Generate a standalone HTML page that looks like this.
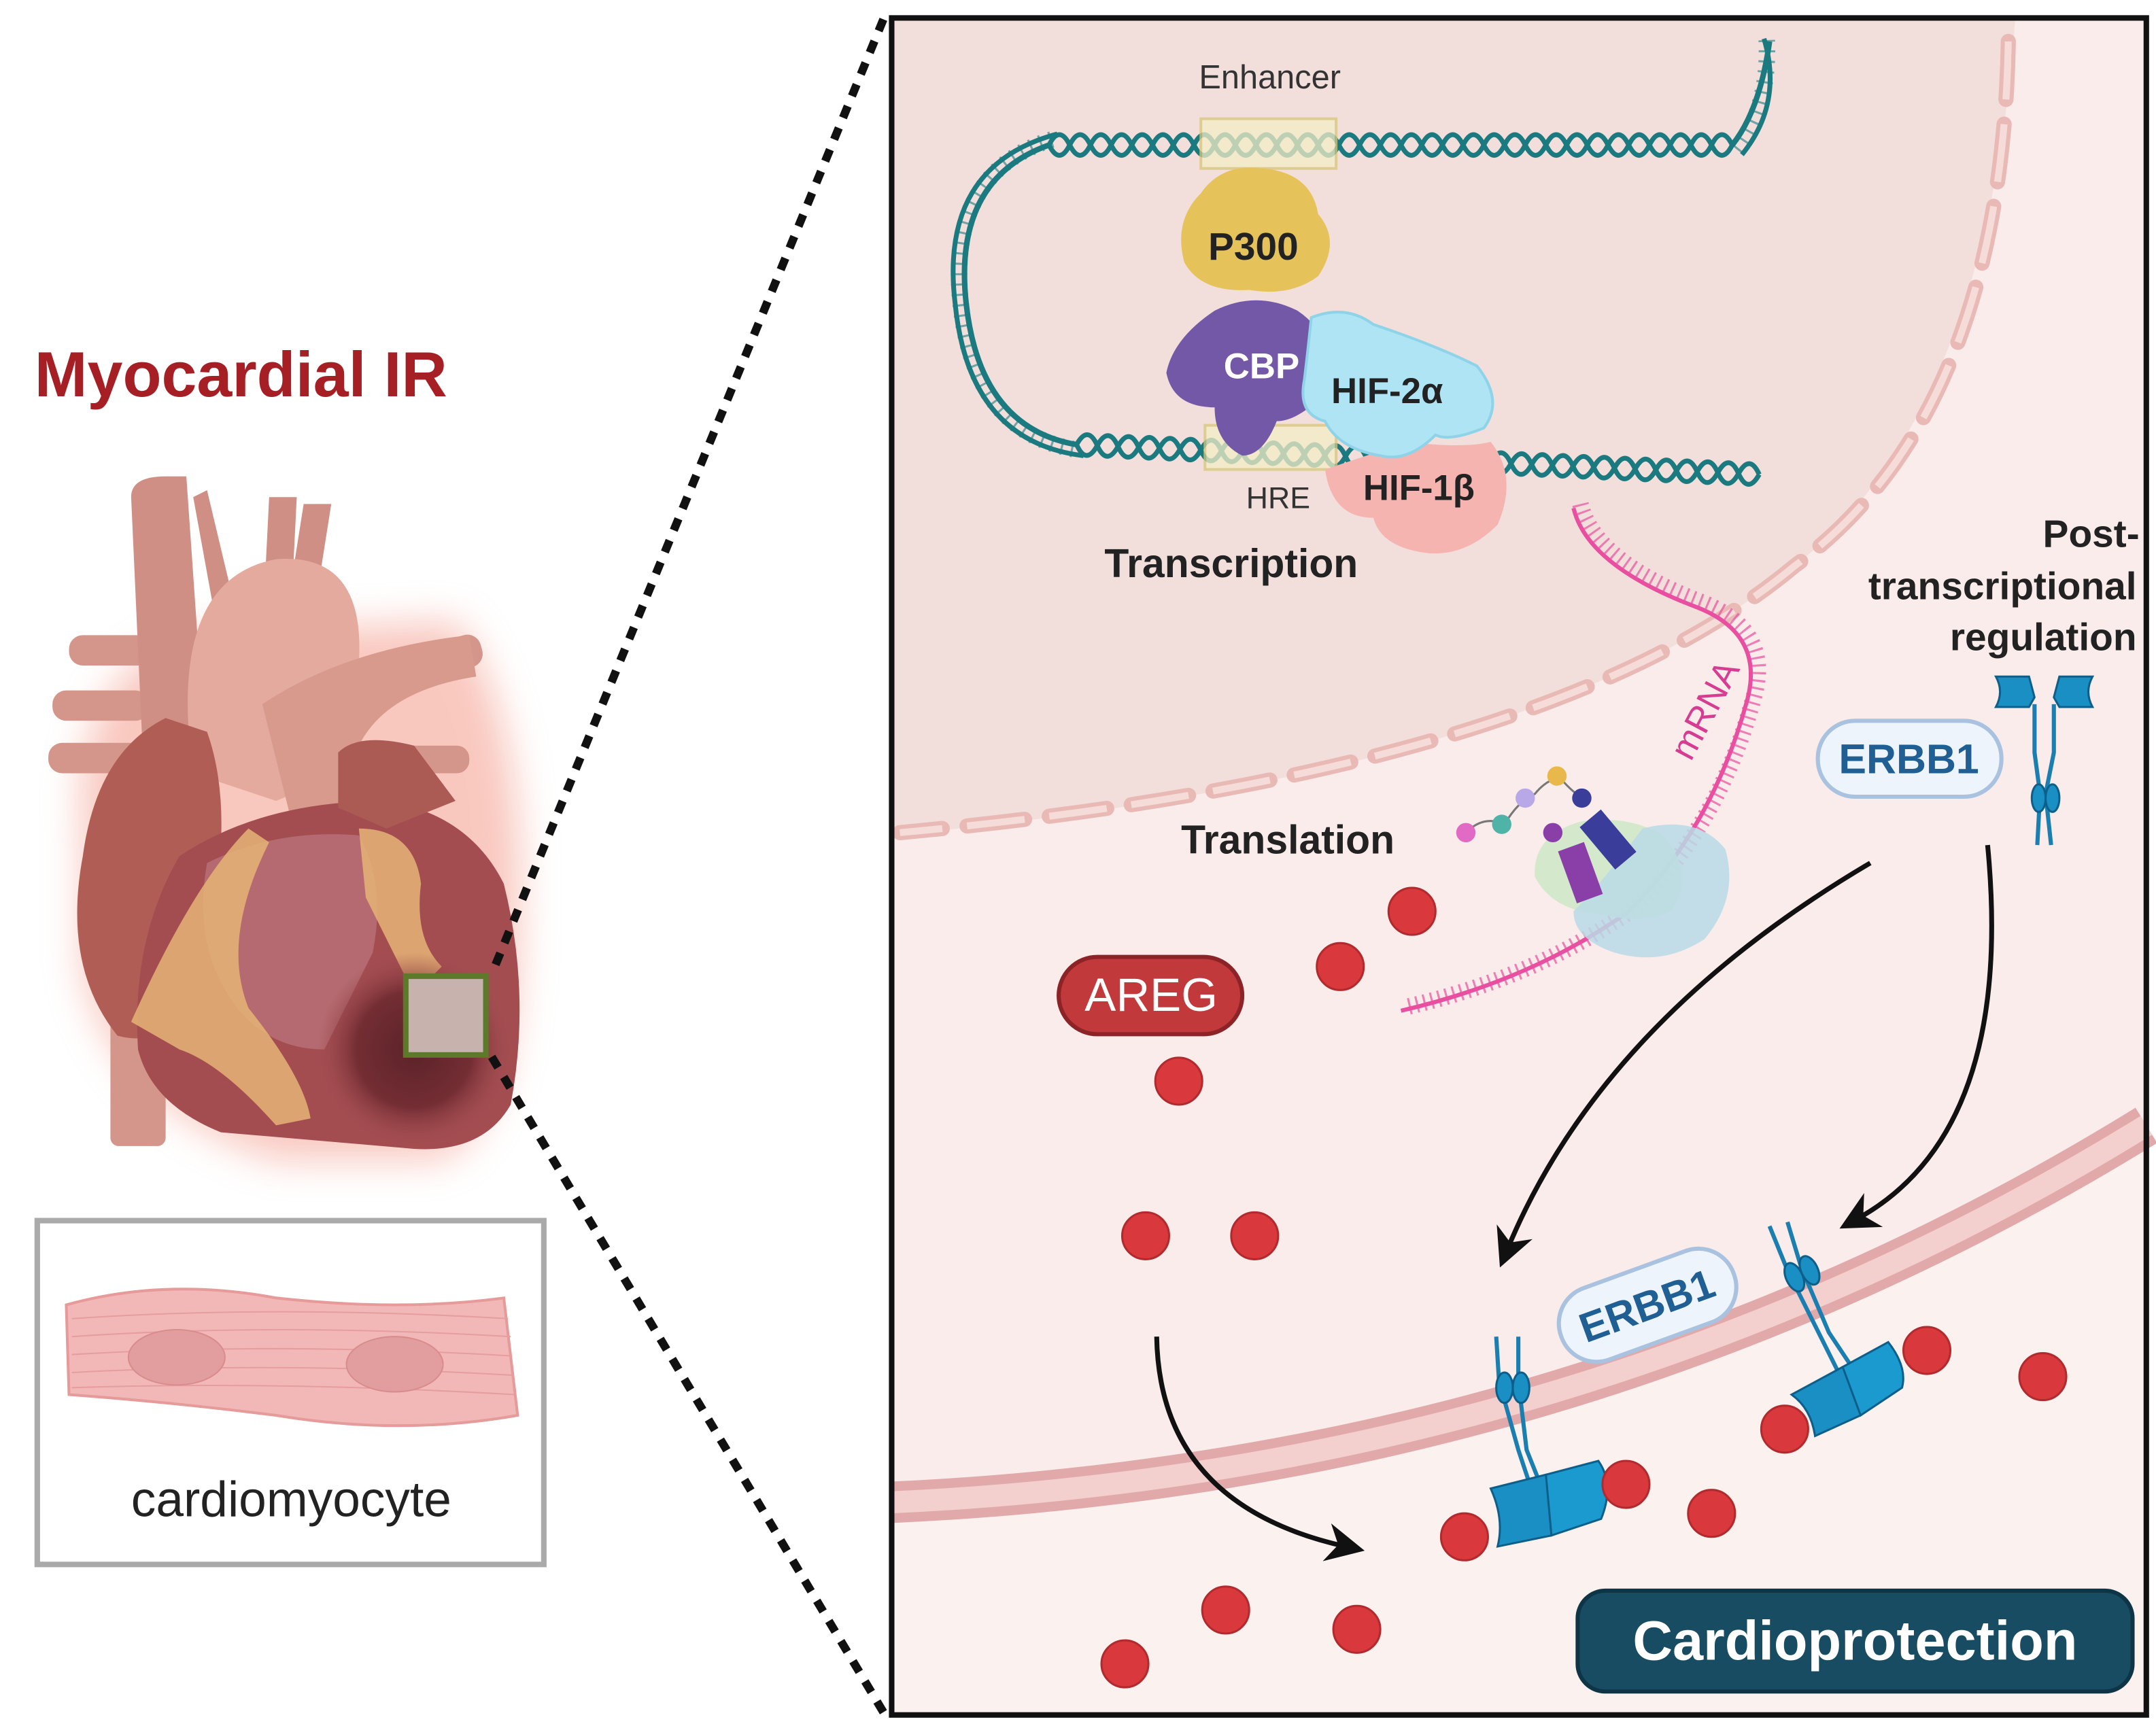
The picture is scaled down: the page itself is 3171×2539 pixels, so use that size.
<!DOCTYPE html>
<html><head><meta charset="utf-8"><style>
html,body{margin:0;padding:0;background:#fff;}
svg{display:block;}
text{font-family:"Liberation Sans",sans-serif;}
</style></head><body>
<svg width="3171" height="2539" viewBox="0 0 1562 1250" preserveAspectRatio="none" xmlns="http://www.w3.org/2000/svg">
<defs>
<filter id="glow" x="-30%" y="-30%" width="160%" height="160%"><feGaussianBlur stdDeviation="14"/></filter>
<marker id="ah" viewBox="0 0 10 10" refX="5" refY="5" markerWidth="8" markerHeight="8" orient="auto"><path d="M0,0 L10,5 L0,10 L3,5 Z" fill="#111"/></marker>
<radialGradient id="inf" cx="0.5" cy="0.5" r="0.5"><stop offset="0" stop-color="#5a2228"/><stop offset="0.6" stop-color="#6e2a30" stop-opacity="0.9"/><stop offset="1" stop-color="#9e4a4e" stop-opacity="0"/></radialGradient>
</defs>
<rect width="1562" height="1250" fill="#fff"/>
<text x="25" y="287" font-size="46" font-weight="bold" fill="#a51f24">Myocardial IR</text>
<g>
<path d="M60,600 Q50,500 130,460 L330,450 Q385,520 375,700 Q370,810 320,840 L200,840 Q80,800 60,700 Z" fill="#f3907e" opacity="0.5" filter="url(#glow)"/>
<rect x="35" y="538" width="70" height="22" rx="10" fill="#d4968a"/>
<rect x="38" y="500" width="70" height="22" rx="10" fill="#d4968a"/>
<rect x="50" y="460" width="70" height="22" rx="10" fill="#d4968a"/>
<rect x="260" y="470" width="90" height="24" rx="10" transform="rotate(-15 300 480)" fill="#d4968a"/>
<rect x="270" y="540" width="70" height="20" rx="9" fill="#d4968a"/>
<rect x="80" y="690" width="40" height="140" rx="6" fill="#d4968a"/>
<path d="M110,690 L95,360 Q95,345 120,345 L135,345 L150,560 Z" fill="#d08f84"/>
<path d="M140,360 L150,355 L175,460 L160,470 Z" fill="#d08f84"/>
<path d="M195,360 L215,360 L210,460 L190,460 Z" fill="#d08f84"/>
<path d="M220,365 L240,365 L225,460 L205,460 Z" fill="#d08f84"/>
<path d="M140,560 Q120,420 200,405 Q265,400 260,480 Q255,560 200,580 Z" fill="#e5aa9e"/>
<path d="M190,510 Q250,470 340,460 L345,490 Q280,500 260,540 L250,600 L210,590 Z" fill="#d99a8e"/>
<path d="M60,620 Q70,545 120,520 L150,530 Q175,600 140,720 Q120,760 85,750 Q45,700 60,620 Z" fill="#b05e55"/>
<path d="M130,620 Q190,580 280,580 Q340,590 365,640 Q385,720 370,800 Q350,835 300,832 L160,820 Q110,800 100,760 Q95,680 130,620 Z" fill="#a34d51"/>
<path d="M245,545 Q260,530 300,540 L330,580 L280,600 L245,585 Z" fill="#ab5b54"/>
<path d="M150,625 Q200,600 260,605 Q280,640 270,690 L235,760 Q190,760 165,720 Q140,680 150,625 Z" fill="#b46a70"/>
<path d="M95,740 Q140,640 180,600 L195,610 Q160,680 180,730 Q220,780 225,810 L200,815 Q160,770 130,760 Z" fill="#e6b476" opacity="0.85"/>
<path d="M260,600 Q300,600 305,640 Q300,680 320,700 L300,720 Q280,680 265,650 Z" fill="#e6b476" opacity="0.85"/>
<ellipse cx="300" cy="760" rx="70" ry="70" fill="url(#inf)"/>
<rect x="294" y="707" width="58" height="57" fill="#c8b2ae" stroke="#5d7a2a" stroke-width="4"/>
</g>
<rect x="27" y="884" width="367" height="249" fill="#fff" stroke="#aaa" stroke-width="4"/>
<path d="M48,945 Q120,925 200,940 Q290,950 365,940 L375,1025 Q290,1040 200,1025 Q120,1015 50,1010 Z" fill="#f2b8b8" stroke="#e69a9a" stroke-width="2"/>
<g stroke="#e59d9d" stroke-width="1" fill="none">
<path d="M52,955 Q200,945 368,955"/><path d="M52,968 Q200,958 370,968"/><path d="M52,981 Q200,972 371,982"/><path d="M52,994 Q200,986 372,996"/><path d="M52,1005 Q200,1000 373,1010"/>
</g>
<ellipse cx="128" cy="983" rx="35" ry="20" fill="#e29e9e" stroke="#d98c8c"/>
<ellipse cx="286" cy="988" rx="35" ry="20" fill="#e29e9e" stroke="#d98c8c"/>
<text x="211" y="1098" font-size="36" fill="#222" text-anchor="middle">cardiomyocyte</text>
<line x1="640" y1="14" x2="356" y2="706" stroke="#111" stroke-width="6" stroke-dasharray="9,8"/>
<line x1="640" y1="1240" x2="356" y2="765" stroke="#111" stroke-width="6" stroke-dasharray="9,8"/>
<rect x="646" y="13" width="909" height="1229" fill="#f9ecea"/>
<path d="M646,13 L1460,13 Q1440,300 1300,410 Q1120,560 646,605 Z" fill="#f2dfdb"/>
<path d="M1455,30 Q1450,300 1300,410 Q1120,560 652,603" fill="none" stroke="#e9b9b6" stroke-width="11" stroke-dasharray="42,18" stroke-linecap="round"/>
<path d="M1455,30 Q1450,300 1300,410 Q1120,560 652,603" fill="none" stroke="#f6dcd9" stroke-width="5" stroke-dasharray="42,18"/>
<path d="M646,1098 Q1150,1075 1555,825 L1555,1242 L646,1242 Z" fill="#fbf1ef"/>
<path d="M646,1088 Q1150,1065 1555,815" fill="none" stroke="#e1a9a9" stroke-width="30"/>
<path d="M646,1088 Q1150,1065 1555,815" fill="none" stroke="#f3cfcd" stroke-width="16"/>
<rect x="646" y="13" width="909" height="1229" fill="none" stroke="#111" stroke-width="4"/>
<!-- DNA helix -->
<g fill="none" stroke="#1b7a80" stroke-width="3.5">
<path d="M760,105 q7.5,-15 15,0 t15,0 t15,0 t15,0 t15,0 t15,0 t15,0 t15,0 t15,0 t15,0 t15,0 t15,0 t15,0 t15,0 t15,0 t15,0 t15,0 t15,0 t15,0 t15,0 t15,0 t15,0 t15,0 t15,0 t15,0 t15,0 t15,0 t15,0 t15,0 t15,0 t15,0 t15,0 t15,0"/>
<path d="M760,105 q7.5,15 15,0 t15,0 t15,0 t15,0 t15,0 t15,0 t15,0 t15,0 t15,0 t15,0 t15,0 t15,0 t15,0 t15,0 t15,0 t15,0 t15,0 t15,0 t15,0 t15,0 t15,0 t15,0 t15,0 t15,0 t15,0 t15,0 t15,0 t15,0 t15,0 t15,0 t15,0 t15,0 t15,0"/>
<path d="M780,322 q7.5,-15 15,0 t15,0 t15,0 t15,0 t15,0 t15,0 t15,0 t15,0 t15,0 t15,0 t15,0 t15,0 t15,0 t15,0 t15,0 t15,0 t15,0 t15,0 t15,0 t15,0 t15,0 t15,0 t15,0 t15,0 t15,0 t15,0 t15,0 t15,0 t15,0 t15,0 t15,0 t15,0 t15,0" transform="rotate(2.5 780 322)"/>
<path d="M780,322 q7.5,15 15,0 t15,0 t15,0 t15,0 t15,0 t15,0 t15,0 t15,0 t15,0 t15,0 t15,0 t15,0 t15,0 t15,0 t15,0 t15,0 t15,0 t15,0 t15,0 t15,0 t15,0 t15,0 t15,0 t15,0 t15,0 t15,0 t15,0 t15,0 t15,0 t15,0 t15,0 t15,0 t15,0" transform="rotate(2.5 780 322)"/>
<path d="M1255,105 Q1275,80 1282,30" stroke-width="4"/>
<path d="M1262,112 Q1292,75 1278,28"/>
<path d="M760,105 Q690,130 700,220 Q710,310 780,322" stroke-width="4"/>
<path d="M766,97 Q680,120 692,220 Q702,320 785,330"/>
</g>
<g fill="none" stroke="#1b7a80" stroke-width="12" stroke-dasharray="1.5,6" opacity="0.6">
<path d="M762,101 Q686,125 696,220 Q706,315 782,326"/>
<path d="M1258,108 Q1282,78 1280,29"/>
</g>
<rect x="870" y="86" width="98" height="36" fill="#f4edc6" stroke="#d8c87a" stroke-width="2" opacity="0.75"/>
<rect x="873" y="308" width="95" height="32" fill="#f4edc6" stroke="#d8c87a" stroke-width="2" opacity="0.75"/>
<text x="920" y="64" font-size="24" fill="#333" text-anchor="middle">Enhancer</text>
<text x="926" y="368" font-size="22" fill="#333" text-anchor="middle">HRE</text>
<path d="M870,140 Q885,118 915,122 Q950,125 955,155 Q972,175 955,200 Q935,215 905,210 Q870,212 858,190 Q850,160 870,140 Z" fill="#e6c35a"/>
<text x="908" y="188" font-size="28" font-weight="bold" fill="#222" text-anchor="middle">P300</text>
<path d="M880,225 Q910,210 940,225 Q970,245 960,285 Q940,305 925,305 Q915,330 900,330 Q880,320 880,295 Q850,295 845,270 Q850,245 880,225 Z" fill="#7458a8"/>
<text x="914" y="274" font-size="26" font-weight="bold" fill="#fff" text-anchor="middle">CBP</text>
<path d="M1020,320 Q1060,325 1080,320 Q1100,345 1085,380 Q1060,405 1030,400 Q1000,395 995,375 Q965,375 960,340 Z" fill="#f6b4b1"/>
<path d="M950,230 Q975,220 995,235 Q1040,250 1070,265 Q1090,290 1075,310 Q1050,320 1040,315 Q1020,335 1000,330 Q970,325 960,305 Q940,300 945,275 Q948,250 950,230 Z" fill="#aee4f3" stroke="#8fd3e8" stroke-width="2"/>
<text x="1005" y="292" font-size="26" font-weight="bold" fill="#222" text-anchor="middle">HIF-2α</text>
<text x="1028" y="362" font-size="26" font-weight="bold" fill="#222" text-anchor="middle">HIF-1β</text>
<text x="892" y="418" font-size="29" font-weight="bold" fill="#222" text-anchor="middle">Transcription</text>
<path d="M1140,368 Q1150,410 1230,440 Q1280,460 1265,510 Q1240,600 1180,660 Q1110,710 1015,732" fill="none" stroke="#e94fa0" stroke-width="3"/>
<path d="M1140,368 Q1150,410 1230,440 Q1280,460 1265,510 Q1240,600 1180,660 Q1110,710 1015,732" fill="none" stroke="#e94fa0" stroke-width="12" stroke-dasharray="1.5,4" opacity="0.7" transform="translate(5,-3)"/>
<text x="0" y="0" font-size="26" fill="#d63c91" transform="translate(1225,552) rotate(-62)">mRNA</text>
<path d="M1145,595 Q1180,590 1205,605 Q1230,635 1210,660 Q1190,670 1160,662 Q1125,660 1112,635 Q1110,605 1145,595 Z" fill="#cfe8c8" opacity="0.9"/>
<path d="M1190,600 Q1230,590 1250,615 Q1260,650 1235,680 Q1205,700 1170,690 Q1140,680 1140,660 Q1160,640 1190,600 Z" fill="#b8dbe6" opacity="0.85"/>
<rect x="1155" y="588" width="20" height="40" fill="#3a3d9a" transform="rotate(-40 1165 608)"/>
<rect x="1135" y="612" width="20" height="40" fill="#8a3fa8" transform="rotate(-20 1145 632)"/>
<path d="M1062,603 Q1075,590 1090,597 Q1100,580 1112,575 Q1120,565 1130,563 Q1140,575 1150,580" fill="none" stroke="#777" stroke-width="1.5"/>
<circle cx="1062" cy="603" r="7" fill="#e06ac4"/><circle cx="1088" cy="597" r="7" fill="#4fb3a7"/>
<circle cx="1105" cy="578" r="7" fill="#b9a8e8"/><circle cx="1128" cy="562" r="7" fill="#e8b84a"/>
<circle cx="1146" cy="578" r="7" fill="#3a3d9a"/><circle cx="1125" cy="603" r="7" fill="#8a3fa8"/>
<text x="933" y="618" font-size="29" font-weight="bold" fill="#222" text-anchor="middle">Translation</text>
<text font-size="28" font-weight="bold" fill="#222" text-anchor="end"><tspan x="1550" y="396">Post-</tspan><tspan x="1548" y="434">transcriptional</tspan><tspan x="1548" y="471">regulation</tspan></text>
<g fill="#1a8fc4" stroke="#0d5f8a" stroke-width="1.5">
<path d="M1446,490 L1470,490 L1474,505 L1470,512 L1446,512 Q1452,501 1446,490 Z"/>
<path d="M1516,490 L1492,490 L1488,505 L1492,512 L1516,512 Q1510,501 1516,490 Z"/>
<path d="M1474,510 L1474,545 L1478,575 L1476,612 M1488,510 L1488,545 L1482,575 L1486,612" fill="none" stroke="#1a7fb0" stroke-width="3"/>
<ellipse cx="1477" cy="578" rx="5" ry="10"/><ellipse cx="1487" cy="578" rx="5" ry="10"/>
</g>
<rect x="1317" y="522" width="133" height="55" rx="27" fill="#eef4fb" stroke="#a9c2e0" stroke-width="3"/>
<text x="1383" y="560" font-size="30" font-weight="bold" fill="#1f5f93" text-anchor="middle">ERBB1</text>
<g transform="rotate(-20 1193 945)">
<rect x="1127" y="918" width="133" height="55" rx="27" fill="#eef4fb" stroke="#a9c2e0" stroke-width="3"/>
<text x="1193" y="956" font-size="30" font-weight="bold" fill="#1f5f93" text-anchor="middle">ERBB1</text>
</g>
<rect x="767" y="693" width="133" height="56" rx="28" fill="#c1393b" stroke="#8c2326" stroke-width="3"/>
<text x="834" y="732" font-size="34" fill="#fff" text-anchor="middle">AREG</text>
<g stroke="#0d5f8a" stroke-width="1.5" fill="#1a8fc4">
<path d="M1084,968 L1086,1000 L1100,1050 L1110,1080 M1100,968 L1100,1000 L1106,1050 L1118,1080" fill="none" stroke="#1a7fb0" stroke-width="3"/>
<ellipse cx="1090" cy="1005" rx="6" ry="11"/><ellipse cx="1102" cy="1005" rx="6" ry="11"/>
<path d="M1080,1078 L1120,1068 L1128,1090 L1124,1112 L1085,1120 Q1090,1100 1080,1078 Z"/>
<path d="M1120,1068 L1158,1058 Q1170,1075 1160,1100 L1124,1112 Z" fill="#1b9ad0"/>
<path d="M1282,888 L1295,920 L1320,970 L1335,1000 M1295,885 L1305,918 L1325,965 L1345,995" fill="none" stroke="#1a7fb0" stroke-width="3"/>
<ellipse cx="1300" cy="925" rx="6" ry="11" transform="rotate(-25 1300 925)"/><ellipse cx="1311" cy="920" rx="6" ry="11" transform="rotate(-25 1311 920)"/>
<path d="M1298,1010 L1335,990 L1350,1010 L1348,1025 L1315,1040 Q1312,1020 1298,1010 Z"/>
<path d="M1335,990 L1368,972 Q1382,990 1378,1005 L1348,1025 Z" fill="#1b9ad0"/>
</g>
<g fill="none" stroke="#111" stroke-width="3.5" marker-end="url(#ah)">
<path d="M1355,625 Q1160,740 1092,905"/>
<path d="M1440,612 Q1460,820 1345,883"/>
<path d="M838,968 Q840,1090 975,1120"/>
</g>
<g fill="#d9393d" stroke="#b12a2e" stroke-width="1.5">
<circle cx="1023" cy="660" r="17"/><circle cx="971" cy="700" r="17"/><circle cx="854" cy="783" r="17"/>
<circle cx="830" cy="895" r="17"/><circle cx="909" cy="895" r="17"/>
<circle cx="1396" cy="978" r="17"/><circle cx="1480" cy="997" r="17"/><circle cx="1293" cy="1035" r="17"/>
<circle cx="1178" cy="1075" r="17"/><circle cx="1240" cy="1096" r="17"/><circle cx="1061" cy="1113" r="17"/>
<circle cx="888" cy="1166" r="17"/><circle cx="983" cy="1180" r="17"/><circle cx="815" cy="1205" r="17"/>
</g>
<rect x="1143" y="1152" width="402" height="73" rx="20" fill="#184c63" stroke="#0e3546" stroke-width="3"/>
<text x="1344" y="1202" font-size="40" font-weight="bold" fill="#fff" text-anchor="middle">Cardioprotection</text>
</svg>
</body></html>
